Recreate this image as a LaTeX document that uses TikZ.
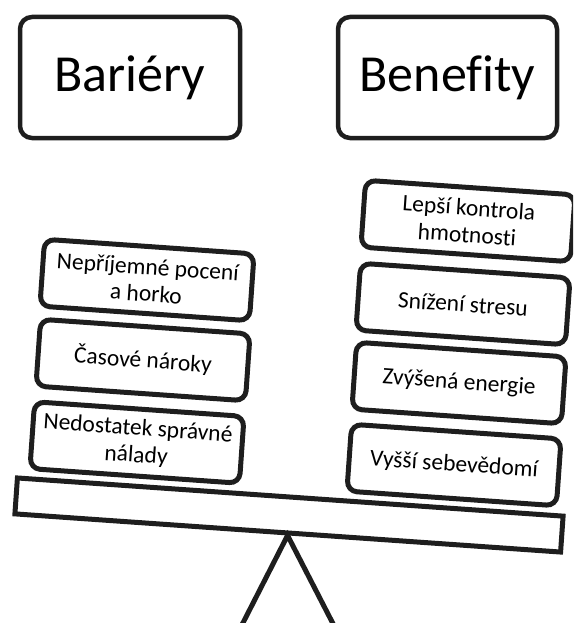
\documentclass[tikz,border=0pt]{standalone}
\usepackage{fontspec}
\setmainfont{Carlito}[Ligatures=NoCommon,RawFeature={-liga;-clig;-dlig}]
\definecolor{ink}{HTML}{1E1E1E}
\newcommand{\nolig}{\kern0pt{}}
\begin{document}
\begin{tikzpicture}[x=1pt,y=-1pt,
  titlebox/.style={draw=ink, line width=4.5pt, rounded corners=12pt,
    minimum width=220pt, minimum height=121pt, inner sep=0pt,
    font=\fontsize{52}{60}\selectfont},
  itembox/.style={draw=ink, line width=5pt, rounded corners=10pt, rotate=-4,
    minimum width=210pt, minimum height=67pt, inner sep=2pt, align=center,
    font=\fontsize{23.5}{27}\selectfont},
  beambox/.style={draw=ink, line width=5pt, rotate=-4,
    minimum width=547pt, minimum height=36pt, inner sep=0pt},
  pivotline/.style={draw=ink, line width=5pt, line join=miter}
]
\useasboundingbox (0,0) rectangle (573,623);
\clip (0,0) rectangle (573,623);

\node[titlebox] (bar) at (130,77.5) {Bariéry};
\node[titlebox, minimum width=219pt] (ben) at (447.5,77.5) {Benef\nolig ity};

\node[beambox] (beam) at (289,515) {};

\node[itembox] (l1) at (147,280) {Nepříjemné pocení\\a horko};
\node[itembox] (l2) at (143,360) {Časové nároky};
\node[itembox] (l3) at (137,442.5) {Nedostatek správné\\nálady};

\node[itembox] (r1) at (468,221) {Lepší kontrola\\hmotnost\nolig i};
\node[itembox] (r2) at (463,304) {Snížení stresu};
\node[itembox] (r3) at (459,383) {Zvýšená energie};
\node[itembox] (r4) at (454,465) {Vyšší sebevědomí};

\coordinate (pl) at (237.8,633);
\coordinate (pr) at (337.8,633);
\draw[pivotline] (pl) -- (beam.south) -- (pr);
\end{tikzpicture}
\end{document}
